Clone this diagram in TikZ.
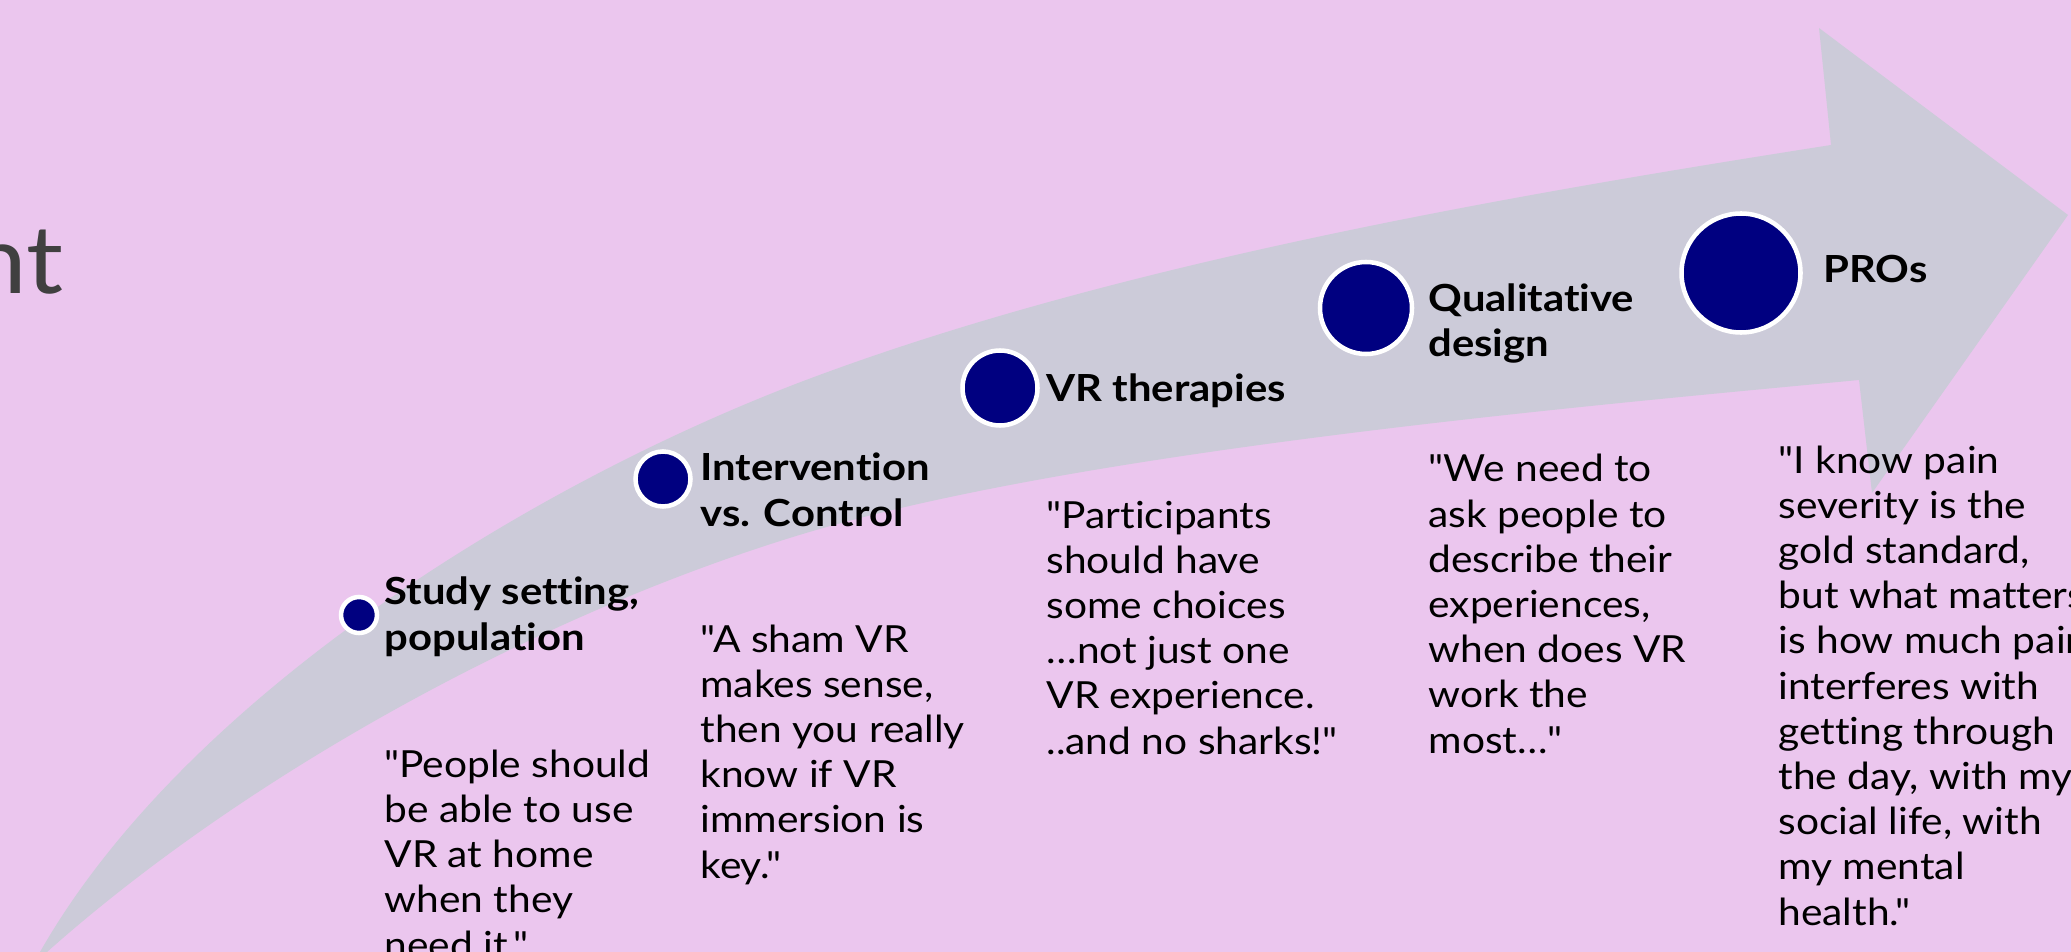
\documentclass[tikz,border=0pt]{standalone}
\usepackage{fontspec}
\setmainfont{Lato}[Ligatures={TeXOff,CommonOff}, FakeStretch=1.09, BoldFeatures={FakeStretch=1.12}]

\tikzset{every picture/.style={line width=0.75pt}}
\tikzset{
  heading/.style={anchor=base west, inner sep=0pt, align=left, font=\bfseries\fontsize{28}{33.9}\selectfont},
  quote/.style={anchor=base west, inner sep=0pt, align=left, font=\fontsize{28}{33.9}\selectfont},
  stage/.style={color=white, fill={rgb, 255:red, 0; green, 0; blue, 128}, line width=3.4pt}
}

\begin{document}
\begin{tikzpicture}[x=0.75pt,y=0.75pt,yscale=-1,xscale=1]
\path[use as bounding box] (0,0) rectangle (2071,952);
\clip (0,0) rectangle (2071,952);

%Background
\fill [color={rgb, 255:red, 235; green, 198; blue, 238}] (0,0) rectangle (2071,952);

%Shape: Curved Arrow
\fill [color={rgb, 255:red, 204; green, 203; blue, 217}] (36,966) -- (40,952) .. controls (183,701) and (523,487) .. (806,380) .. controls (1121,261.6) and (1520,193.8) .. (1831,145) -- (1819,28) -- (2068,215) -- (1872,493) -- (1859,380) .. controls (1590,405.5) and (1082,450.2) .. (806,533) .. controls (545.5,611) and (250,771.3) .. (47,952) -- cycle ;

%Shape: Circle
\draw [stage] (359,615) circle (18) ;
%Shape: Circle
\draw [stage] (663,479) circle (27.5) ;
%Shape: Circle
\draw [stage] (1000,388) circle (37.5) ;
%Shape: Circle
\draw [stage] (1366,308) circle (46) ;
%Shape: Circle
\draw [stage] (1741,273) circle (59.5) ;

% Text Node
\draw (64,294) node [anchor=base east][inner sep=0pt][font=\fontsize{71}{80}\selectfont, color={rgb, 255:red, 64; green, 64; blue, 64}] (title) {nt};

% Text Nodes (anchored on the baseline of their last line)
\draw (384,650) node [heading] (study) {Study setting,\\population};
% Text Node
\draw (384,958) node [quote] (studyq) {"People should\\be able to use\\VR at home\\when they\\need it."};
% Text Node
\draw (700,526) node [heading] (interv) {Intervention\\vs. Control};
% Text Node
\draw (700,878) node [quote] (intervq) {"A sham VR\\makes sense,\\then you really\\know if VR\\immersion is\\key."};
% Text Node
\draw (1046,402) node [heading] (vr) {VR therapies};
% Text Node
\draw (1046,754) node [quote] (vrq) {"Participants\\should have\\some choices\\…not just one\\VR experience.\\..and no sharks!"};
% Text Node
\draw (1428,357) node [heading] (qual) {Qualitative\\design};
% Text Node
\draw (1428,753) node [quote] (qualq) {"We need to\\ask people to\\describe their\\experiences,\\when does VR\\work the\\most…"};
% Text Node
\draw (1823,283) node [heading] (pros) {PROs};
% Text Node
\draw (1778,925) node [quote] (prosq) {"I know pain\\severity is the\\gold standard,\\but what matters\\is how much pain\\interferes with\\getting through\\the day, with my\\social life, with\\my mental\\health."};

\end{tikzpicture}
\end{document}
